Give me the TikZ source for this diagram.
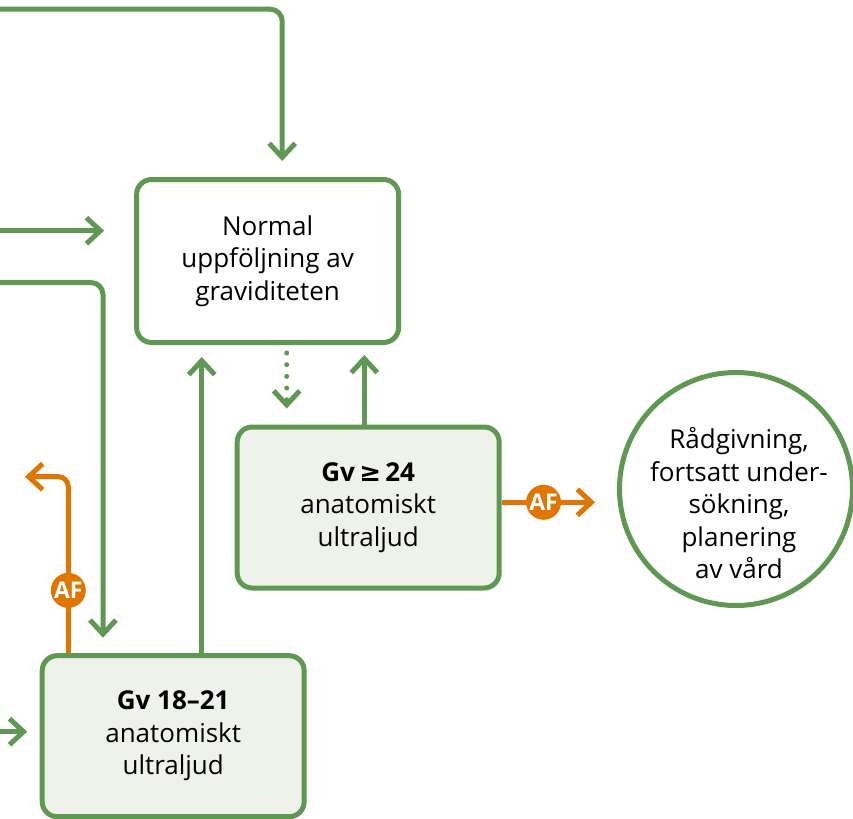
\documentclass[tikz,border=0pt]{standalone}
\usepackage{fontspec}
\setmainfont{Open Sans}
\newfontfamily\symfont{DejaVu Sans}
\usetikzlibrary{arrows.meta}
\definecolor{flowgreen}{RGB}{95,152,82}
\definecolor{floworange}{RGB}{222,118,0}
\definecolor{boxfill}{RGB}{239,242,235}

\begin{document}
\begin{tikzpicture}[x=0.5pt,y=-0.5pt,
    font=\fontsize{13}{16.25}\selectfont,
    box/.style={draw=flowgreen,line width=2.5pt,rounded corners=7.5pt,
        minimum width=131pt,minimum height=80.5pt,align=center,inner sep=0pt},
    exambox/.style={box,fill=boxfill},
    endcircle/.style={draw=flowgreen,line width=2.5pt,circle,minimum size=116.5pt,inner sep=0pt},
    gline/.style={draw=flowgreen,line width=2.5pt,rounded corners=6pt},
    oline/.style={draw=floworange,line width=2.5pt,rounded corners=5pt},
    garrow/.style={gline,-{Straight Barb[length=7pt,width=13pt]}},
    oarrow/.style={oline,-{Straight Barb[length=7pt,width=13pt]}},
    afbadge/.style={circle,fill=floworange,text=white,inner sep=0pt,minimum size=17.5pt,
        font=\fontsize{11.5}{11.5}\selectfont\bfseries}]
    \useasboundingbox (0,0) rectangle (853,819);

    \node[box,minimum height=81.5pt] (Normal) at (267.6,261) {Normal\\uppföljning av\\graviditeten};
    \node[exambox] (Gv24) at (368.2,507.5) {\textbf{Gv\,{\symfont\bfseries≥}\,24}\\anatomiskt\\ultraljud};
    \node[exambox] (Gv18) at (173.2,736.2) {\textbf{Gv 18–21}\\anatomiskt\\ultraljud};
    \node[endcircle,label={[align=center,xshift=1.5pt,yshift=-7.25pt]center:{Rådgivning,\\fortsatt under-\\sökning,\\planering\\av vård}}] (Counsel) at (736,489) {};

    \coordinate (fromTop) at (0,9.2);
    \coordinate (fromMid) at (0,230.7);
    \coordinate (fromLow) at (0,282.5);
    \coordinate (fromSide) at (0,731.7);
    \coordinate (backAF) at (25,476.7);

    % into Normal
    \draw[garrow,shorten >=8pt] (fromTop) -| ([xshift=7.3pt]Normal.north);
    \draw[garrow,shorten >=15pt] (fromMid) -- (fromMid -| Normal.west);
    \draw[garrow,shorten >=6pt] ([xshift=14.25pt]Gv18.north) -- ([xshift=14.25pt]Gv18.north |- Normal.south);
    \draw[garrow,shorten >=5pt] ([xshift=-1.95pt]Gv24.north) -- ([xshift=-1.95pt]Gv24.north |- Normal.south);

    % Normal to Gv24
    \draw[garrow,shorten <=4pt,shorten >=8pt,dash pattern=on 0pt off 5.85pt,line cap=round]
        ([xshift=9.55pt]Normal.south) -- ([xshift=9.55pt]Normal.south |- Gv24.north);

    % into Gv18
    \draw[garrow,shorten >=7.75pt] (fromLow) -| ([xshift=-35.1pt]Gv18.north);
    \draw[garrow,shorten >=6.25pt] (fromSide) -- (fromSide -| Gv18.west);

    % AF
    \draw[oarrow,shorten >=11pt] ([yshift=2.6pt]Gv24.east) -- ([yshift=2.6pt]Gv24.east -| Counsel.west)
        node[afbadge,pos=0.363] (afRight) {AF};
    \draw[oarrow] ([xshift=-52.45pt]Gv18.north) |- (backAF)
        node[afbadge,pos=0.178] (afLeft) {AF};
\end{tikzpicture}
\end{document}
